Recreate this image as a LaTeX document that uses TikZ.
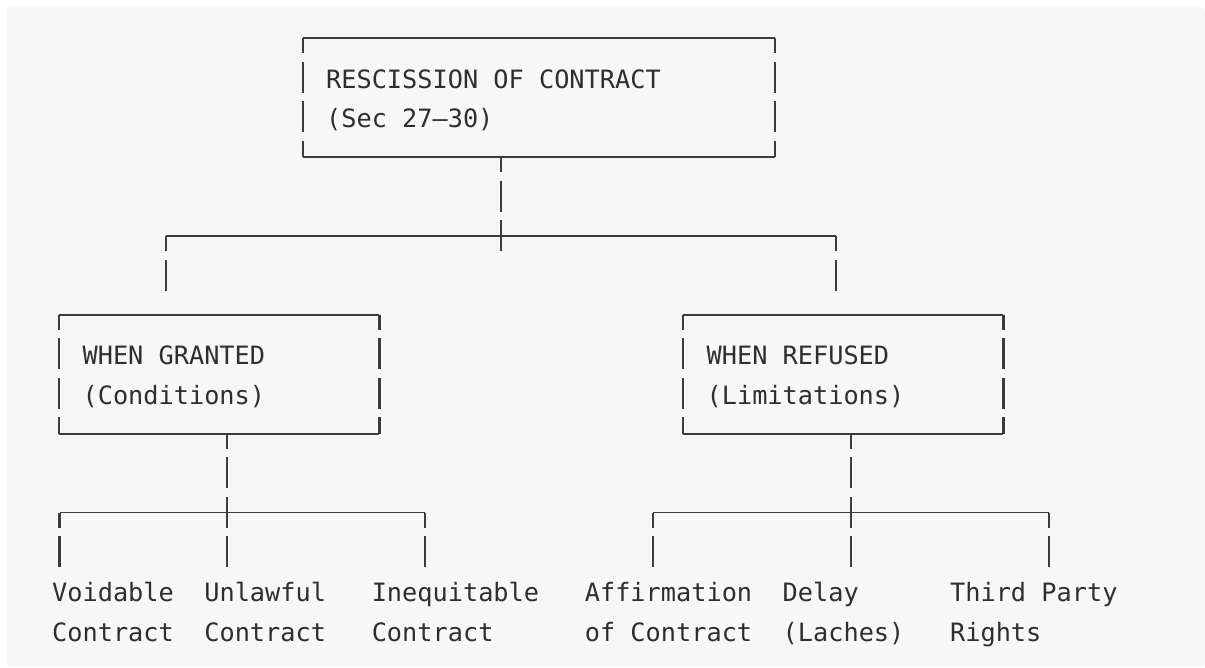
\documentclass[tikz,border=0pt]{standalone}
\usepackage{fontspec}
\usetikzlibrary{fit}
\newfontfamily\asciifont{DejaVu Sans Mono}
\definecolor{panel}{HTML}{F7F7F7}
\definecolor{ink}{HTML}{2E2E2E}
\definecolor{rule}{HTML}{3C3C3C}

% grid: one character cell is 15.22 units wide, one text row 39.5 units high
% two-line labels are anchored on the baseline of their second line
\tikzset{
  gridtext/.style={anchor=base west, inner sep=0pt, align=left, text=ink,
    font=\asciifont\fontsize{18.95pt}{29.625pt}\selectfont},
  frame/.style={inner sep=0pt, draw=none},
  hline/.style={draw=rule, line width=1.4pt, line cap=butt},
  vline/.style={draw=rule, line width=1.7pt, line cap=butt,
    dash pattern=on 23.25pt off 6.375pt, dash phase=12pt},
}
% box outline: solid top and bottom, broken sides
\newcommand\asciiframe[1]{%
  \draw[hline] (#1.north west) -- (#1.north east);
  \draw[hline] (#1.south west) -- (#1.south east);
  \draw[vline] (#1.north west) -- (#1.south west);
  \draw[vline] (#1.north east) -- (#1.south east);
}

\begin{document}
\begin{tikzpicture}[x=0.75pt, y=-0.75pt]
  \useasboundingbox (0,0) rectangle (1205,667);
  \fill[white] (0,0) rectangle (1205,667);
  \fill[panel, rounded corners=3pt] (7,7) rectangle (1205,667);

  % boxes
  \node[frame, fit={(303.02,38.5) (774.84,157)}] (root) {};
  \node[frame, fit={(59.5,315) (379.12,433.5)}] (granted) {};
  \node[frame, fit={(683.52,315) (1003.14,433.5)}] (refused) {};
  \asciiframe{root}
  \asciiframe{granted}
  \asciiframe{refused}

  \node[gridtext] (root-t) at (325.85,127.5) {RESCISSION OF CONTRACT\\(Sec 27–30)};
  \node[gridtext] (granted-t) at (82.33,404) {WHEN GRANTED\\(Conditions)};
  \node[gridtext] (refused-t) at (706.35,404) {WHEN REFUSED\\(Limitations)};

  % leaves
  \node[gridtext] (v1) at (51.89,641) {Voidable\\Contract};
  \node[gridtext] (v2) at (204.09,641) {Unlawful\\Contract};
  \node[gridtext] (v3) at (371.51,641) {Inequitable\\Contract};
  \node[gridtext] (r1) at (584.59,641) {Affirmation\\of Contract};
  \node[gridtext] (r2) at (782.45,641) {Delay\\(Laches)};
  \node[gridtext] (r3) at (949.87,641) {Third Party\\Rights};

  % junction points and free ends
  \coordinate (top-j) at (500.88,236);
  \coordinate (top-j-end) at (500.88,251.5);
  \coordinate (top-l) at (166.04,236);
  \coordinate (top-l-end) at (166.04,291);
  \coordinate (top-r) at (835.72,236);
  \coordinate (top-r-end) at (835.72,291);

  \coordinate (g-l) at (59.5,512.5);
  \coordinate (g-l-end) at (59.5,567.5);
  \coordinate (g-m) at (226.92,512.5);
  \coordinate (g-m-end) at (226.92,567.5);
  \coordinate (g-r) at (424.78,512.5);
  \coordinate (g-r-end) at (424.78,567.5);

  \coordinate (f-l) at (653.08,512.5);
  \coordinate (f-l-end) at (653.08,567.5);
  \coordinate (f-m) at (850.94,512.5);
  \coordinate (f-m-end) at (850.94,567.5);
  \coordinate (f-r) at (1048.8,512.5);
  \coordinate (f-r-end) at (1048.8,567.5);

  % first level
  \draw[vline] (root.south -| top-j) -- (top-j-end);
  \draw[hline] (top-l) -- (top-r);
  \draw[vline] (top-l) -- (top-l-end);
  \draw[vline] (top-r) -- (top-r-end);

  % conditions
  \draw[vline] (granted.south -| g-m) -- (g-m-end);
  \draw[hline] (g-l) -- (g-r);
  \draw[vline] (g-l) -- (g-l-end);
  \draw[vline] (g-r) -- (g-r-end);

  % limitations
  \draw[vline] (refused.south -| f-m) -- (f-m-end);
  \draw[hline] (f-l) -- (f-r);
  \draw[vline] (f-l) -- (f-l-end);
  \draw[vline] (f-r) -- (f-r-end);
\end{tikzpicture}
\end{document}
